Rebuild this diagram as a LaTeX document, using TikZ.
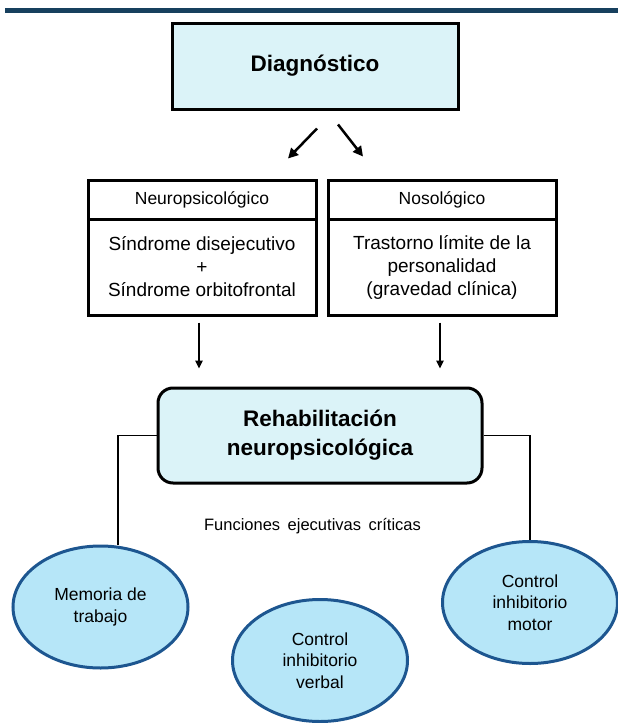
\documentclass[tikz,border=0pt]{standalone}
\usepackage{fontspec}
\setmainfont{Liberation Sans}
\usetikzlibrary{arrows.meta}
\usetikzlibrary{shapes.geometric}

\begin{document}
\begin{tikzpicture}[x=1pt,y=-1pt,
    kasten/.style={draw,line width=3pt,align=center,inner sep=0pt},
    titel/.style={font=\fontsize{22.5}{29}\bfseries\selectfont},
    kopf/.style={kasten,minimum width=228pt,minimum height=39pt,font=\fontsize{17.5}{21}\selectfont},
    rumpf/.style={kasten,minimum width=228pt,minimum height=96pt,font=\fontsize{19}{23}\selectfont},
    wolke/.style={ellipse,draw=ellblau,fill=ellfuell,line width=3pt,align=center,inner sep=0pt,
      minimum width=175pt,minimum height=122pt,font=\fontsize{17.5}{21.5}\selectfont},
    pfeil/.style={-{Triangle[length=8pt,width=7.5pt]},line width=1.3pt},
    dickpfeil/.style={-{Triangle[length=10pt,width=10pt]},line width=2.5pt}]
    \definecolor{balken}{HTML}{17405E}
    \definecolor{hellblau}{HTML}{DBF3F8}
    \definecolor{ellfuell}{HTML}{B6E6F8}
    \definecolor{ellblau}{HTML}{1D5690}
    \useasboundingbox (0,0) rectangle (618,723);
    \fill[balken] (5,8) rectangle (618,13);  %Balken oben
    \node[kasten,titel,fill=hellblau,minimum width=286pt,minimum height=86pt] (diag) at (315,66) {Diagnóstico};
    \node[kopf] (neurokopf) at (202,199.5) {Neuropsicológico};  %links
    \node[rumpf] (neuro) at (202,267) {Síndrome disejecutivo\\+\\Síndrome orbitofrontal};
    \node[kopf] (nosokopf) at (442,199.5) {Nosológico};  %rechts
    \node[rumpf] (noso) at (442,267) {Trastorno límite de la\\personalidad\\(gravedad clínica)};
    \node[kasten,titel,fill=hellblau,rounded corners=15pt,minimum width=324pt,minimum height=95pt] (rehab) at (320,435.5)
      {Rehabilitación\\neuropsicológica};
    \node[font=\fontsize{16.5}{19}\selectfont] (fej) at (312.5,526) {\spaceskip=7.5pt Funciones ejecutivas críticas};
    \node[wolke] (mem) at (100.5,607) {Memoria de\\trabajo};  %Ellipsen
    \node[wolke] (verbal) at (320,660.5) {Control\\inhibitorio\\verbal};
    \node[wolke] (motor) at (530,602.5) {Control\\inhibitorio\\motor};
    \draw[dickpfeil] ([xshift=2pt,yshift=-18pt]diag.south) -- ([xshift=-27pt,yshift=-48pt]diag.south);  %schraeg links
    \draw[dickpfeil] ([xshift=23pt,yshift=-14pt]diag.south) -- ([xshift=48pt,yshift=-46pt]diag.south);  %schraeg rechts
    \draw[pfeil,shorten <=6pt,shorten >=18pt] ([xshift=-3pt]neuro.south) -- ([xshift=-3pt]neuro.south |- rehab.north);
    \draw[pfeil,shorten <=6pt,shorten >=18pt] ([xshift=-2pt]noso.south) -- ([xshift=-2pt]noso.south |- rehab.north);
    \draw[line width=1.3pt] (rehab.west) -| ([xshift=17.5pt]mem.north);  %Linie links
    \draw[line width=1.3pt] (rehab.east) -| (motor.north);  %Linie rechts
\end{tikzpicture}
\end{document}
